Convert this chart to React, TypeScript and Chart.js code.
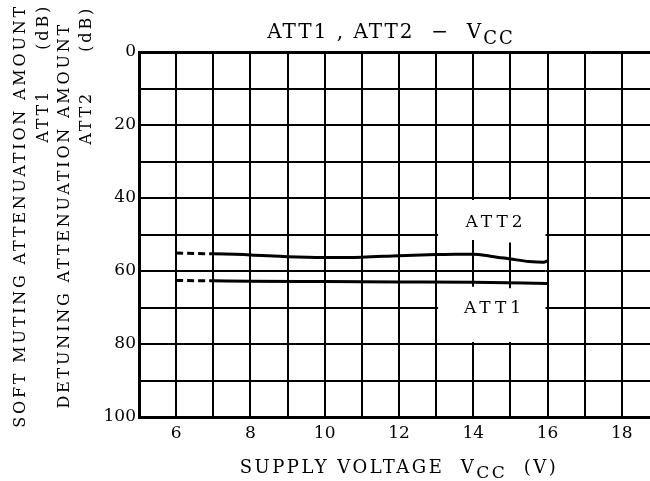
import React, { useEffect, useRef } from 'react';
import { Chart, registerables } from 'chart.js';

Chart.register(...registerables);

// ---- data ----
const att2Voltage = [6, 7, 8, 9, 10, 11, 12, 13, 13.5, 14, 14.5, 15, 15.5, 15.9, 16];
const att2Values = [55.1, 55.3, 55.6, 56.1, 56.3, 56.2, 55.8, 55.5, 55.4, 55.4, 56.0, 56.7, 57.4, 57.6, 57.2];
const att1Voltage = [6, 7, 8, 10, 12, 14, 16];
const att1Values = [62.6, 62.7, 62.8, 62.9, 63.0, 63.1, 63.4];
const xTickLabels = [6, 8, 10, 12, 14, 16, 18];
const yTickLabels = [0, 20, 40, 60, 80, 100];
const markerVoltages = [14, 15];

const SERIF = '"DejaVu Serif", "Liberation Serif", serif';

const overlayPlugin = {
  id: 'overlay',
  beforeDatasetsDraw(chart: any) {
    const { ctx, scales } = chart;
    const x = scales.x;
    const y = scales.y;
    ctx.save();
    const x0 = x.getPixelForValue(13) + 2;
    const x1 = x.getPixelForValue(16) - 2;
    const y0 = y.getPixelForValue(40) + 2;
    const y1 = y.getPixelForValue(80) - 2;
    ctx.fillStyle = '#fff';
    ctx.fillRect(x0, y0, x1 - x0, y1 - y0);
    ctx.strokeStyle = '#000';
    ctx.lineWidth = 2;
    ctx.beginPath();
    const y60 = Math.round(y.getPixelForValue(60));
    ctx.moveTo(x0, y60);
    ctx.lineTo(x1, y60);
    ctx.stroke();
    markerVoltages.forEach((v, i) => {
      const px = Math.round(x.getPixelForValue(v));
      ctx.beginPath();
      ctx.moveTo(px, y.getPixelForValue(i === 0 ? 51.5 : 52.2));
      ctx.lineTo(px, y.getPixelForValue(i === 0 ? 64.3 : 64.7));
      ctx.stroke();
    });
    ctx.fillStyle = '#000';
    ctx.font = `17px ${SERIF}`;
    (ctx as any).letterSpacing = '4px';
    ctx.textAlign = 'center';
    ctx.textBaseline = 'middle';
    ctx.fillText('ATT2', x.getPixelForValue(14.56) + 2, y.getPixelForValue(46.8));
    ctx.fillText('ATT1', x.getPixelForValue(14.52) + 2, y.getPixelForValue(70.2));
    ctx.restore();
  },
  afterDraw(chart: any) {
    const { ctx } = chart;
    ctx.save();
    ctx.fillStyle = '#000';
    ctx.textBaseline = 'alphabetic';
    const drawWithSub = (parts: [string, boolean][], cx: number, baseY: number, size: number, subSize: number, spacing: string) => {
      (ctx as any).letterSpacing = spacing;
      let total = 0;
      const widths = parts.map(([t, sub]) => {
        ctx.font = `${sub ? subSize : size}px ${SERIF}`;
        const w = ctx.measureText(t).width;
        total += w;
        return w;
      });
      let cur = cx - total / 2;
      ctx.textAlign = 'left';
      parts.forEach(([t, sub], i) => {
        ctx.font = `${sub ? subSize : size}px ${SERIF}`;
        ctx.fillText(t, cur, sub ? baseY + size * 0.28 : baseY);
        cur += widths[i];
      });
    };
    drawWithSub([['ATT1 , ATT2  −  V', false], ['CC', true]], 391, 38, 20, 18, '2px');
    drawWithSub([['SUPPLY VOLTAGE  V', false], ['CC', true], ['  (V)', false]], 399, 473, 18, 17, '2.5px');
    const vText = (t: string, xc: number, yTop: number, size: number, spacing: string) => {
      ctx.save();
      ctx.translate(xc, yTop);
      ctx.rotate(-Math.PI / 2);
      ctx.font = `${size}px ${SERIF}`;
      (ctx as any).letterSpacing = spacing;
      ctx.textAlign = 'right';
      ctx.textBaseline = 'middle';
      ctx.fillText(t, 0, 0);
      ctx.restore();
    };
    vText('SOFT MUTING ATTENUATION AMOUNT', 21, 4, 16, '2.8px');
    vText('ATT1     (dB)', 44, 4, 16, '2.8px');
    vText('DETUNING ATTENUATION AMOUNT', 65, 22, 16, '2.8px');
    vText('ATT2     (dB)', 87, 6, 16, '2.8px');
    ctx.restore();
  },
};

export default function App() {
  const ref = useRef<HTMLCanvasElement>(null);
  useEffect(() => {
    document.body.style.margin = '0';
    const canvas = ref.current!;
    const dashFirst = (c: any) => (c.p0.parsed.x < 7 ? [7, 4] : undefined);
    const chart = new Chart(canvas, {
      type: 'line',
      data: {
        datasets: [
          {
            label: 'ATT2',
            data: att2Voltage.map((v, i) => ({ x: v, y: att2Values[i] })),
            borderColor: '#000',
            borderWidth: 3,
            pointRadius: 0,
            cubicInterpolationMode: 'monotone',
            segment: { borderDash: dashFirst },
          },
          {
            label: 'ATT1',
            data: att1Voltage.map((v, i) => ({ x: v, y: att1Values[i] })),
            borderColor: '#000',
            borderWidth: 3,
            pointRadius: 0,
            cubicInterpolationMode: 'monotone',
            segment: { borderDash: dashFirst },
          },
        ] as any,
      },
      options: {
        responsive: false,
        animation: false,
        events: [],
        layout: { padding: { top: 52, left: 0, right: 0, bottom: 0 } },
        plugins: { legend: { display: false }, tooltip: { enabled: false }, title: { display: false } },
        scales: {
          x: {
            type: 'linear',
            min: 5,
            max: 18.76,
            afterBuildTicks: (s: any) => {
              const t = [];
              for (let v = Math.ceil(s.min); v <= Math.floor(s.max); v++) t.push({ value: v });
              s.ticks = t;
            },
            afterFit: (s: any) => {
              s.height = 64;
            },
            ticks: {
              autoSkip: false,
              maxRotation: 0,
              padding: 6,
              color: '#000',
              font: { family: SERIF, size: 17 },
              callback: (v: any) => (xTickLabels.includes(v) ? String(v) : ''),
            },
            grid: { color: '#000', lineWidth: 2, drawTicks: false },
            border: { color: '#000', width: 3 },
          },
          y: {
            type: 'linear',
            reverse: true,
            min: 0,
            max: 100,
            afterFit: (s: any) => {
              s.width = 139;
            },
            ticks: {
              stepSize: 10,
              autoSkip: false,
              padding: 3,
              color: '#000',
              font: { family: SERIF, size: 17 },
              callback: (v: any) => (yTickLabels.includes(v) ? String(v) : ''),
            },
            grid: {
              color: '#000',
              lineWidth: (c: any) => (c.tick && c.tick.value === 0 ? 3 : 2),
              drawTicks: false,
            },
            border: { color: '#000', width: 3 },
          },
        },
      },
      plugins: [overlayPlugin],
    });
    return () => chart.destroy();
  }, []);
  return <canvas ref={ref} width={650} height={481} style={{ display: 'block' }} />;
}
